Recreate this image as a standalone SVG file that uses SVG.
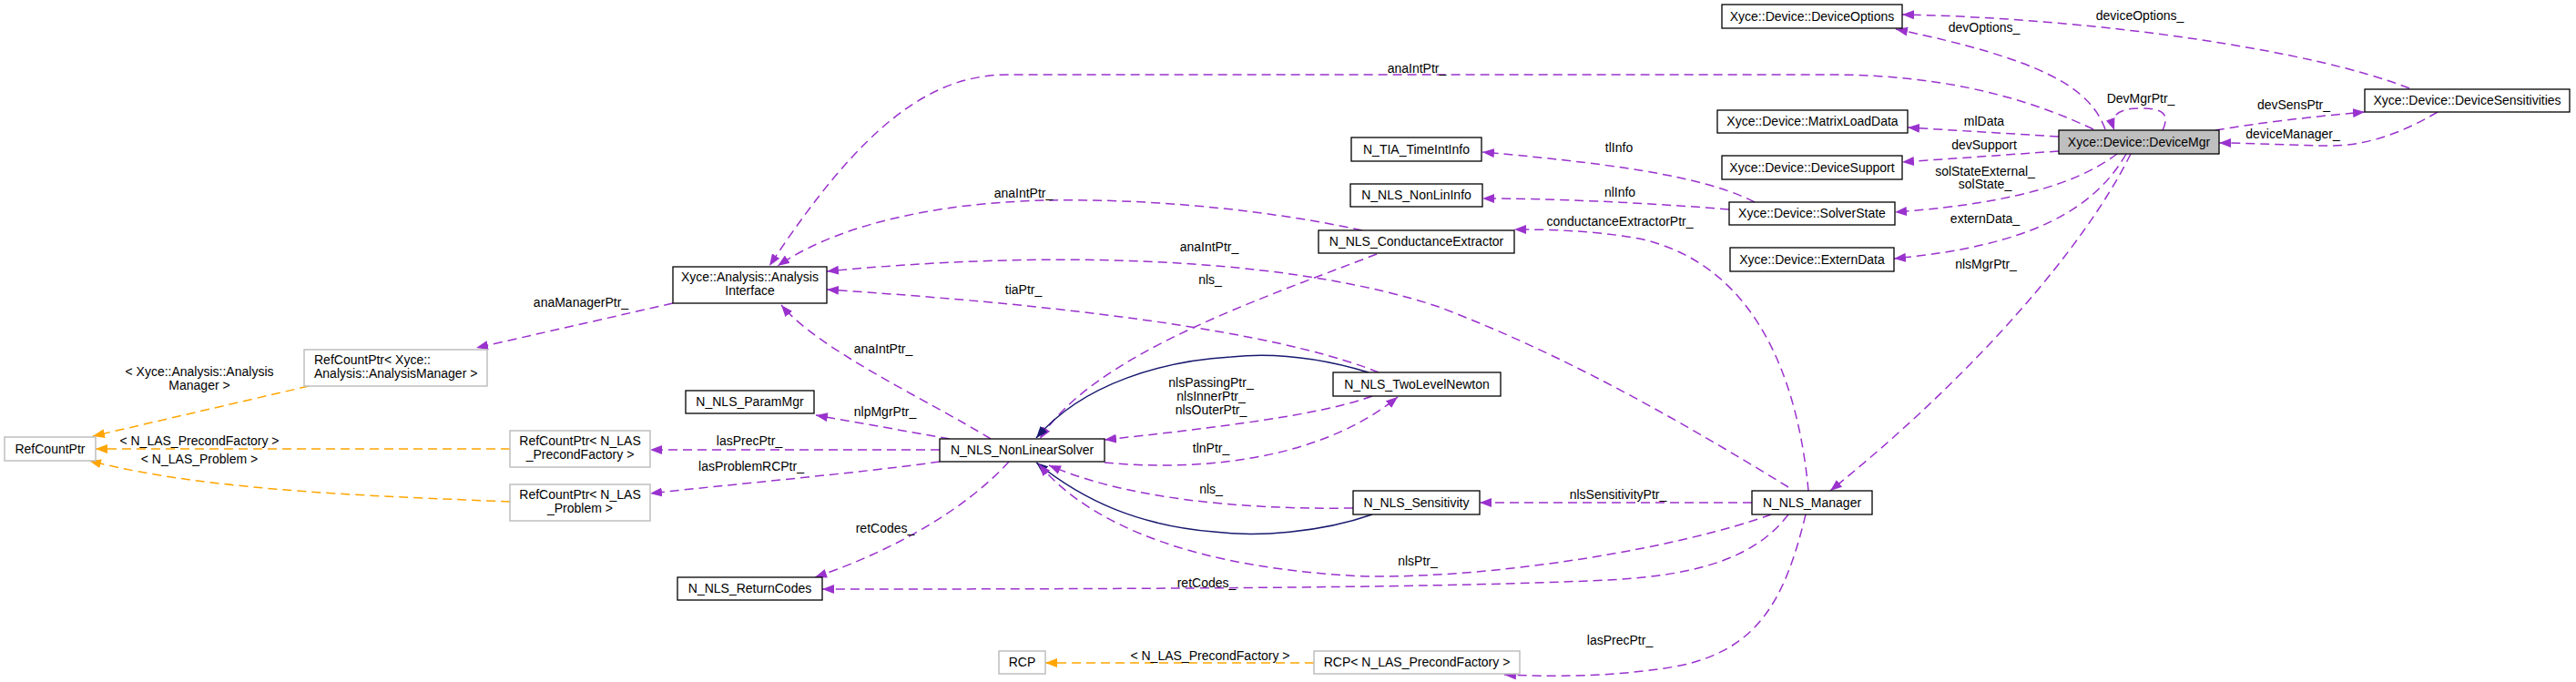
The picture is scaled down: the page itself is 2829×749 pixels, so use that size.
<svg xmlns="http://www.w3.org/2000/svg" width="2829" height="749" viewBox="0 0 2829 749">
<defs>
<style>
.n rect{fill:#fff;stroke:#000;stroke-width:1.3}
.g rect{fill:#fff;stroke:#bfbfbf;stroke-width:1.5}
.sel rect{fill:#bfbfbf}
text{font-family:"Liberation Sans",Arial,sans-serif;font-size:14px;fill:#000}
.c{text-anchor:middle}
.e path{fill:none}
.p{stroke:#9a32cd;stroke-width:1.5;stroke-dasharray:10,6;marker-end:url(#ap)}
.o{stroke:#ffa500;stroke-width:1.5;stroke-dasharray:10,6;marker-end:url(#ao)}
.s{stroke:#191970;stroke-width:1.5;marker-end:url(#an)}
</style>
<marker id="ap" markerUnits="userSpaceOnUse" markerWidth="13" markerHeight="10" refX="13" refY="5" orient="auto" viewBox="0 0 13 10"><path d="M0,0 L13,5 L0,10 z" fill="#9a32cd"/></marker>
<marker id="ao" markerUnits="userSpaceOnUse" markerWidth="13" markerHeight="10" refX="13" refY="5" orient="auto" viewBox="0 0 13 10"><path d="M0,0 L13,5 L0,10 z" fill="#ffa500"/></marker>
<marker id="an" markerUnits="userSpaceOnUse" markerWidth="13" markerHeight="10" refX="13" refY="5" orient="auto" viewBox="0 0 13 10"><path d="M0,0 L13,5 L0,10 z" fill="#191970"/></marker>
</defs>
<rect width="2829" height="749" fill="#fff"/>
<g id="connectors" class="e">
<path class="p" d="M2646,97 C2540,55 2300,20 2089,16"/>
<text class="c" x="2350" y="22">deviceOptions_</text>
<path class="p" d="M2312,142 C2295,95 2240,65 2082,32"/>
<text class="c" x="2179" y="35">devOptions_</text>
<path class="p" d="M2299,142 C2200,95 2100,82 2010,82 L1107,82 C1020,82 945,140 845,292"/>
<text class="c" x="1556" y="80">anaIntPtr_</text>
<path class="p" d="M2375,143 C2385,122 2370,119 2350,119 C2328,119 2316,126 2322,143"/>
<text class="c" x="2351" y="113">DevMgrPtr_</text>
<path class="p" d="M2433,143 C2480,135 2540,128 2597,123"/>
<text class="c" x="2519" y="120">devSensPtr_</text>
<path class="p" d="M2677,123 C2640,145 2600,160 2560,160 C2520,160 2480,157 2437,157"/>
<text class="c" x="2518" y="152">deviceManager_</text>
<path class="p" d="M2261,150 L2095,140"/>
<text class="c" x="2179" y="138">mlData</text>
<path class="p" d="M2261,166 L2089,178"/>
<text class="c" x="2179" y="164">devSupport</text>
<path class="p" d="M2325,169 C2290,195 2230,222 2081,233"/>
<text class="c" x="2180" y="193">solStateExternal_</text>
<text class="c" x="2180" y="207">solState_</text>
<path class="p" d="M2335,169 C2300,230 2230,270 2080,284"/>
<text class="c" x="2180" y="245">externData_</text>
<path class="p" d="M2340,169 C2290,270 2170,410 2010,539"/>
<text class="c" x="2181" y="295">nlsMgrPtr_</text>
<path class="p" d="M1927,222 C1880,198 1800,182 1628,167"/>
<text class="c" x="1778" y="167">tlInfo</text>
<path class="p" d="M1899,230 C1800,222 1700,218 1628,218"/>
<text class="c" x="1779" y="216">nlInfo</text>
<path class="p" d="M1986,539 C1975,420 1930,290 1800,262 C1750,253 1700,252 1663,252"/>
<text class="c" x="1779" y="248">conductanceExtractorPtr_</text>
<path class="p" d="M1496,253 C1380,228 1250,218 1150,220 C1050,222 930,240 854,292"/>
<text class="c" x="1124" y="217">anaIntPtr_</text>
<path class="p" d="M1512,279 C1380,330 1200,390 1142,482"/>
<text class="c" x="1329" y="312">nls_</text>
<path class="p" d="M1964,535 C1850,465 1720,390 1580,337 C1440,290 1200,270 908,298"/>
<text class="c" x="1328" y="276">anaIntPtr_</text>
<path class="p" d="M1514,409 C1430,375 1250,340 908,318"/>
<text class="c" x="1124" y="323">tiaPtr_</text>
<path class="s" d="M1503,409 C1440,390 1390,388 1352,392 C1280,396 1190,420 1138,481"/>
<path class="p" d="M1507,435 C1460,452 1380,465 1213,483"/>
<text class="c" x="1330" y="425">nlsPassingPtr_</text>
<text class="c" x="1330" y="440">nlsInnerPtr_</text>
<text class="c" x="1330" y="455">nlsOuterPtr_</text>
<path class="p" d="M1213,508 C1320,518 1450,505 1535,436"/>
<text class="c" x="1330" y="497">tlnPtr_</text>
<path class="p" d="M1486,558 C1350,560 1230,545 1152,511"/>
<text class="c" x="1330" y="542">nls_</text>
<path class="s" d="M1507,565 C1450,585 1380,590 1333,584 C1250,577 1190,550 1138,508"/>
<path class="p" d="M1924,552 L1625,552"/>
<text class="c" x="1777" y="548">nlsSensitivityPtr_</text>
<path class="p" d="M1945,565 C1850,600 1650,635 1500,633 C1320,625 1200,580 1141,510"/>
<text class="c" x="1557" y="621">nlsPtr_</text>
<path class="p" d="M1964,565 C1930,610 1870,632 1765,637 C1600,645 1300,647 903,647"/>
<text class="c" x="1325" y="645">retCodes_</text>
<path class="p" d="M1108,507 C1060,560 980,605 895,634"/>
<text class="c" x="972" y="585">retCodes_</text>
<path class="p" d="M1983,565 C1960,660 1930,715 1840,732 C1770,744 1700,743 1652,741"/>
<text class="c" x="1779" y="708">lasPrecPtr_</text>
<path class="o" d="M1443,728 L1148,728"/>
<text class="c" x="1329" y="725">&lt; N_LAS_PrecondFactory &gt;</text>
<path class="p" d="M1043,482 L896,456"/>
<text class="c" x="972" y="457">nlpMgrPtr_</text>
<path class="p" d="M1088,482 C1020,440 900,385 858,335"/>
<text class="c" x="970" y="388">anaIntPtr_</text>
<path class="p" d="M1032,494 L714,494"/>
<text class="c" x="823" y="489">lasPrecPtr_</text>
<path class="p" d="M1032,507 C940,520 800,532 714,542"/>
<text class="c" x="825" y="517">lasProblemRCPtr_</text>
<path class="o" d="M560,493 L105,493"/>
<text class="c" x="219" y="489">&lt; N_LAS_PrecondFactory &gt;</text>
<path class="o" d="M560,551 C420,545 230,540 98,506"/>
<text class="c" x="219" y="509">&lt; N_LAS_Problem &gt;</text>
<path class="o" d="M339,424 L102,479"/>
<text class="c" x="219" y="413">&lt; Xyce::Analysis::Analysis</text>
<text class="c" x="219" y="428">Manager &gt;</text>
<path class="p" d="M739,333 L523,382"/>
<text class="c" x="638" y="337">anaManagerPtr_</text>
</g>
<g id="n_devopts" class="n"><rect x="1891" y="5" width="198" height="26"/><text class="c" x="1990" y="23">Xyce::Device::DeviceOptions</text></g>
<g id="n_devsens" class="n"><rect x="2597" y="98" width="225" height="25"/><text class="c" x="2709.5" y="115">Xyce::Device::DeviceSensitivities</text></g>
<g id="n_devmgr" class="n sel"><rect x="2261" y="143" width="176" height="26"/><text class="c" x="2349" y="161">Xyce::Device::DeviceMgr</text></g>
<g id="n_mld" class="n"><rect x="1886" y="121" width="209" height="25"/><text class="c" x="1990.5" y="138">Xyce::Device::MatrixLoadData</text></g>
<g id="n_devsup" class="n"><rect x="1891" y="171" width="198" height="26"/><text class="c" x="1990" y="189">Xyce::Device::DeviceSupport</text></g>
<g id="n_solst" class="n"><rect x="1899" y="222" width="182" height="25"/><text class="c" x="1990" y="239">Xyce::Device::SolverState</text></g>
<g id="n_extdata" class="n"><rect x="1900" y="272" width="180" height="26"/><text class="c" x="1990" y="290">Xyce::Device::ExternData</text></g>
<g id="n_timeint" class="n"><rect x="1484" y="151" width="143" height="26"/><text class="c" x="1555.5" y="169">N_TIA_TimeIntInfo</text></g>
<g id="n_nonlininfo" class="n"><rect x="1483" y="202" width="145" height="25"/><text class="c" x="1555.5" y="219">N_NLS_NonLinInfo</text></g>
<g id="n_ce" class="n"><rect x="1448" y="253" width="215" height="25"/><text class="c" x="1555.5" y="270">N_NLS_ConductanceExtractor</text></g>
<g id="n_tln" class="n"><rect x="1464" y="409" width="184" height="26"/><text class="c" x="1556" y="427">N_NLS_TwoLevelNewton</text></g>
<g id="n_sens" class="n"><rect x="1486" y="539" width="139" height="26"/><text class="c" x="1555.5" y="557">N_NLS_Sensitivity</text></g>
<g id="n_mgr" class="n"><rect x="1924" y="539" width="132" height="26"/><text class="c" x="1990" y="557">N_NLS_Manager</text></g>
<g id="n_ai" class="n"><rect x="739" y="293" width="169" height="40"/><text class="c" x="823.5" y="309">Xyce::Analysis::Analysis</text><text class="c" x="823.5" y="324">Interface</text></g>
<g id="n_parammgr" class="n"><rect x="753" y="429" width="141" height="25"/><text class="c" x="823.5" y="446">N_NLS_ParamMgr</text></g>
<g id="n_nls" class="n"><rect x="1032" y="482" width="181" height="25"/><text class="c" x="1122.5" y="499">N_NLS_NonLinearSolver</text></g>
<g id="n_retcodes" class="n"><rect x="744" y="634" width="159" height="25"/><text class="c" x="823.5" y="651">N_NLS_ReturnCodes</text></g>
<g id="n_rcp_am" class="g"><rect x="334" y="384" width="201" height="40"/><text x="345" y="400">RefCountPtr&lt; Xyce::</text><text x="345" y="415">Analysis::AnalysisManager &gt;</text></g>
<g id="n_rcp_pf" class="g"><rect x="560" y="473" width="154" height="40"/><text class="c" x="637" y="489">RefCountPtr&lt; N_LAS</text><text class="c" x="637" y="504">_PrecondFactory &gt;</text></g>
<g id="n_rcp_pr" class="g"><rect x="560" y="532" width="154" height="40"/><text class="c" x="637" y="548">RefCountPtr&lt; N_LAS</text><text class="c" x="637" y="563">_Problem &gt;</text></g>
<g id="n_refcount" class="g"><rect x="5" y="480" width="100" height="26"/><text class="c" x="55" y="498">RefCountPtr</text></g>
<g id="n_rcp" class="g"><rect x="1097" y="715" width="51" height="25"/><text class="c" x="1122.5" y="732">RCP</text></g>
<g id="n_rcp_pf2" class="g"><rect x="1443" y="715" width="226" height="25"/><text class="c" x="1556" y="732">RCP&lt; N_LAS_PrecondFactory &gt;</text></g>
</svg>
